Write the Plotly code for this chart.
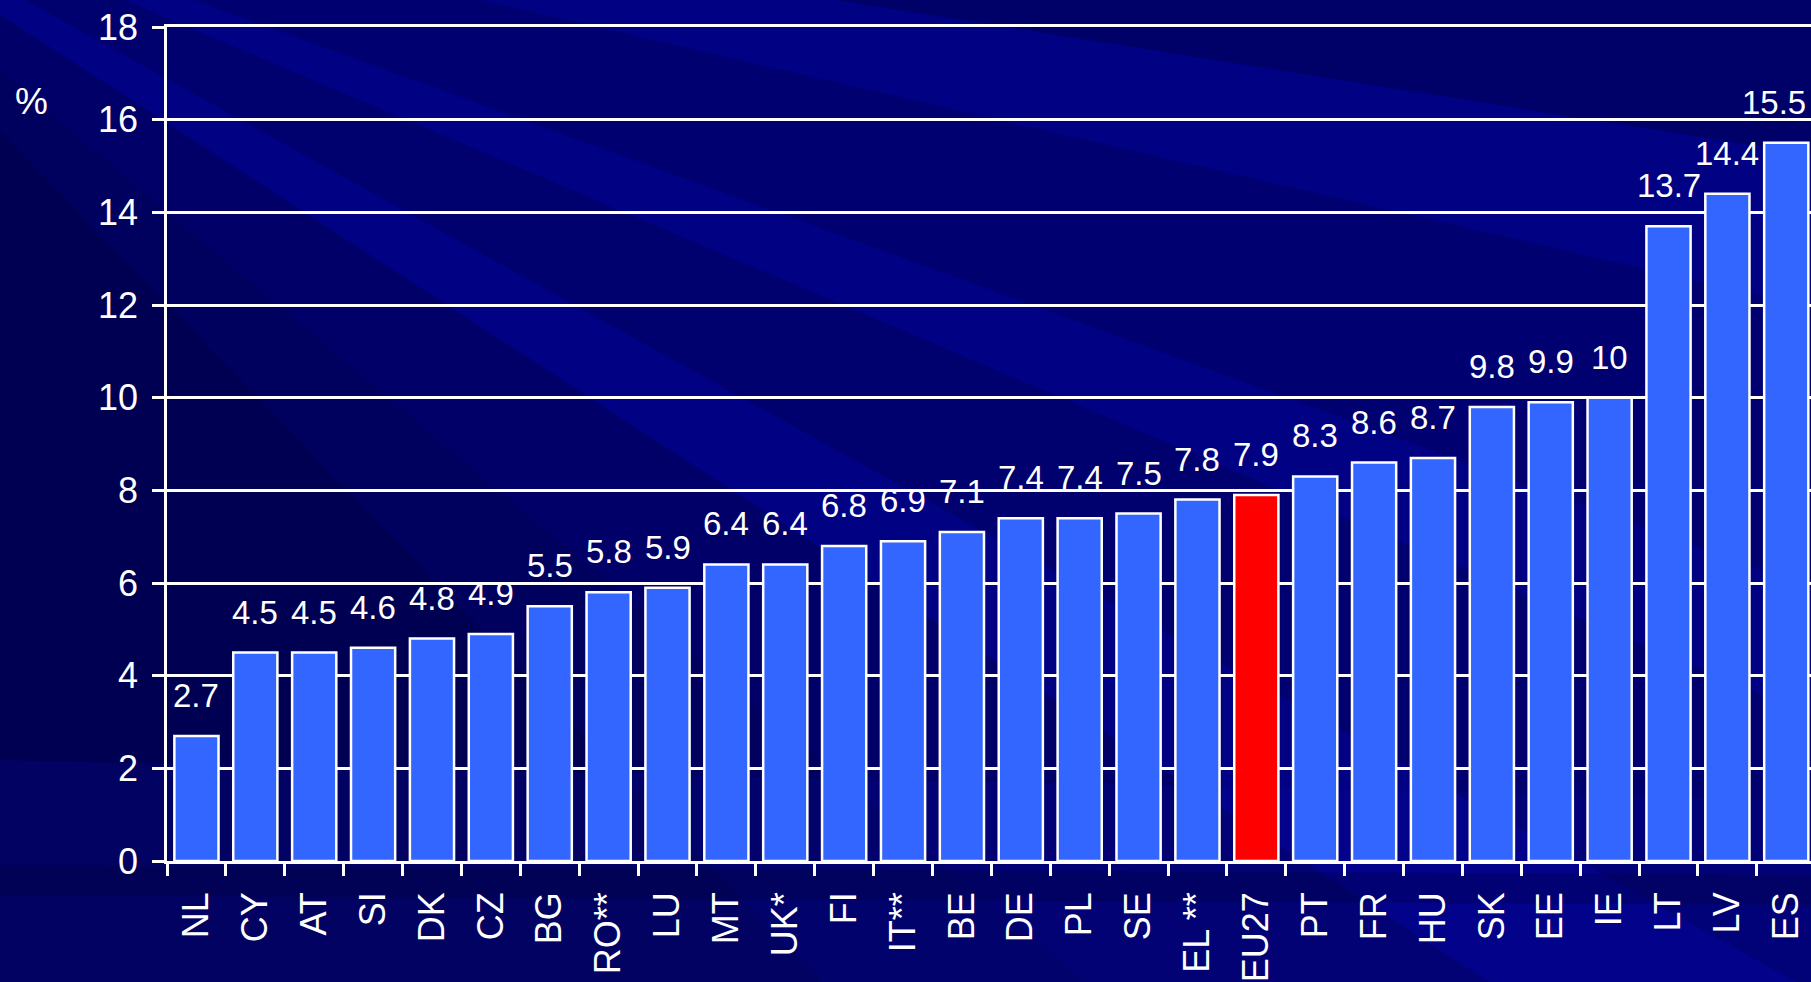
import math
import plotly.graph_objects as go

# Data (%)
countries = ["NL", "CY", "AT", "SI", "DK", "CZ", "BG", "RO**", "LU", "MT", "UK*", "FI",
             "IT**", "BE", "DE", "PL", "SE", "EL **", "EU27", "PT", "FR", "HU", "SK",
             "EE", "IE", "LT", "LV", "ES"]
values = [2.7, 4.5, 4.5, 4.6, 4.8, 4.9, 5.5, 5.8, 5.9, 6.4, 6.4, 6.8,
          6.9, 7.1, 7.4, 7.4, 7.5, 7.8, 7.9, 8.3, 8.6, 8.7, 9.8,
          9.9, 10, 13.7, 14.4, 15.5]
highlight = "EU27"
y_ticks = [0, 2, 4, 6, 8, 10, 12, 14, 16, 18]

W, H = 1811, 982
L, R, T, B = 167, 0, 27, 121
FONT = "Arial, Liberation Sans, sans-serif"

bar_colors = ["#FF0000" if c == highlight else "#3366FF" for c in countries]

fig = go.Figure()
fig.add_trace(go.Bar(
    x=countries,
    y=values,
    marker=dict(color=bar_colors, line=dict(color="white", width=2.5)),
    hoverinfo="x+y",
))

# value labels above each bar (last one nudged left so it stays on the page)
for i, (c, v) in enumerate(zip(countries, values)):
    fig.add_annotation(
        x=c, y=v, text=f"{v:g}", showarrow=False,
        yanchor="bottom", yshift=20,
        xshift=-12 if i == len(countries) - 1 else 0,
        font=dict(family=FONT, size=33, color="white"),
    )

# background streaks (decoration only), pixel coords -> paper coords
pw, ph = W - L - R, H - T - B


def px(x, y):
    return (x - L) / pw, (H - B - y) / ph


def poly(points, color):
    pts = [px(x, y) for x, y in points]
    path = "M " + " L ".join(f"{a:.4f},{b:.4f}" for a, b in pts) + " Z"
    fig.add_shape(type="path", path=path, xref="paper", yref="paper",
                  fillcolor=color, line=dict(width=0), layer="below")


# fan of rays from beyond the top-left corner
ox, oy = -300, -180
rays = [
    (0, 9, "rgba(0,0,50,0.30)"),
    (9, 13, "rgba(40,40,220,0.03)"),
    (13, 20, "rgba(0,0,40,0.20)"),
    (20, 23, "rgba(40,40,220,0.03)"),
    (23, 29, "rgba(0,0,40,0.22)"),
    (29, 33, "rgba(40,40,220,0.03)"),
    (33, 40, "rgba(0,0,40,0.28)"),
    (40, 46, "rgba(0,0,40,0.38)"),
    (46, 90, "rgba(0,0,30,0.48)"),
]
for a0, a1, col in rays:
    r = 4000
    p0 = (ox + r * math.cos(math.radians(a0)), oy + r * math.sin(math.radians(a0)))
    p1 = (ox + r * math.cos(math.radians(a1)), oy + r * math.sin(math.radians(a1)))
    poly([(ox, oy), p0, p1], col)

poly([(0, 760), (1811, 800), (1811, 982), (0, 982)], "rgba(10,10,160,0.22)")
poly([(0, 865), (1811, 875), (1811, 905), (0, 895)], "rgba(0,0,40,0.22)")

fig.add_annotation(
    x=px(31, 0)[0], y=px(0, 101)[1], xref="paper", yref="paper", text="%",
    showarrow=False, xanchor="center", yanchor="middle",
    font=dict(family=FONT, size=37, color="white"),
)

fig.update_layout(
    width=W, height=H,
    margin=dict(l=L, r=R, t=T, b=B, pad=0, autoexpand=False),
    paper_bgcolor="#000082",
    plot_bgcolor="rgba(0,0,0,0)",
    bargap=0.25,
    showlegend=False,
    font=dict(family=FONT, color="white"),
    xaxis=dict(
        type="category",
        range=[-0.5, 27.42],
        automargin=False,
        tickson="boundaries",
        ticks="outside", ticklen=12, tickwidth=2.5, tickcolor="white",
        tickangle=-90,
        tickfont=dict(family=FONT, size=36, color="white"),
        ticklabelstandoff=14,
        showline=True, linecolor="white", linewidth=2.5, mirror=True,
        showgrid=False,
    ),
    yaxis=dict(
        range=[0, 18],
        automargin=False,
        tickvals=y_ticks,
        ticks="outside", ticklen=12, tickwidth=2.5, tickcolor="white",
        tickfont=dict(family=FONT, size=36, color="white"),
        ticklabelstandoff=7,
        showline=True, linecolor="white", linewidth=2.5,
        showgrid=True, gridcolor="white", gridwidth=2.5,
        zeroline=False,
    ),
)

fig.write_html(
    "out.html",
    config={"displayModeBar": False},
    post_script="document.body.style.margin='0';document.body.style.overflow='hidden';",
)
